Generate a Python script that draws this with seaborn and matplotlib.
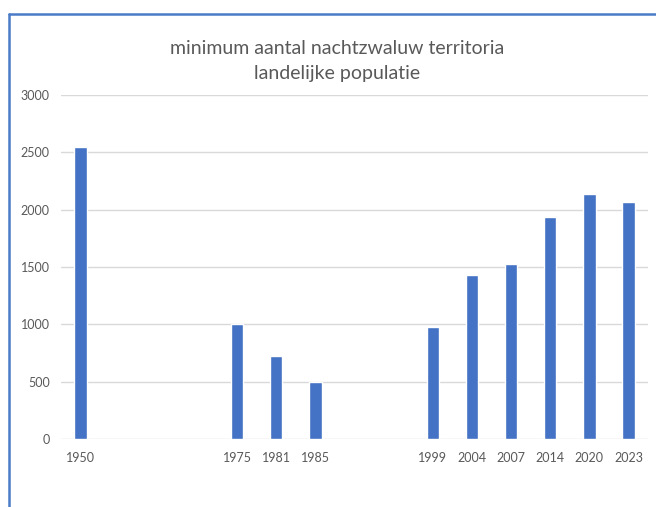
import matplotlib
matplotlib.use("Agg")
import matplotlib.pyplot as plt
from matplotlib.lines import Line2D
import seaborn as sns
import pandas as pd

years = ["1950", "1975", "1981", "1985", "1999", "2004", "2007", "2014", "2020", "2023"]
values = [2550, 1000, 720, 500, 980, 1430, 1530, 1940, 2140, 2070]
# category order on the axis, with empty slots as in the original chart
order = ["1950", "_g1", "_g2", "_g3", "1975", "1981", "1985", "_g4", "_g5",
         "1999", "2004", "2007", "2014", "2020", "2023"]
yticks = [0, 500, 1000, 1500, 2000, 2500, 3000]
title = "minimum aantal nachtzwaluw territoria\nlandelijke populatie"

sns.set_theme(style="white")
plt.rcParams["font.family"] = ["Lato", "DejaVu Sans"]

df = pd.DataFrame({"jaar": years, "aantal": values})

fig = plt.figure(figsize=(6.56, 5.07), dpi=100)
ax = fig.add_axes([61 / 656, 1 - 439 / 507, (648 - 61) / 656, (439 - 95) / 507])

sns.barplot(data=df, x="jaar", y="aantal", order=order, color="#4472C4",
            saturation=1, width=0.32, ax=ax)

ax.set_ylim(0, 3000)
ax.set_xlim(-0.5, len(order) - 0.5)
ax.set_yticks(yticks)
ax.set_yticklabels([str(t) for t in yticks])
ax.set_xticks(range(len(order)))
ax.set_xticklabels([o if not o.startswith("_") else "" for o in order])
ax.set_xlabel("")
ax.set_ylabel("")
ax.yaxis.grid(True, color="#D9D9D9", linewidth=1.0)
ax.set_axisbelow(True)
for s in ax.spines.values():
    s.set_visible(False)
ax.tick_params(axis="both", length=0, labelsize=9, labelcolor="#595959")
ax.tick_params(axis="x", pad=9)
ax.tick_params(axis="y", pad=8)

fig.text(337 / 656, 1 - 61 / 507, title, ha="center", va="center",
         fontsize=14, color="#595959", linespacing=1.5)

# chart border (selected chart frame)
fig.add_artist(Line2D([9 / 656, 9 / 656], [0, 1 - 14 / 507], color="#4A7CC8", linewidth=1.8))
fig.add_artist(Line2D([9 / 656, 1], [1 - 14 / 507, 1 - 14 / 507], color="#4A7CC8", linewidth=1.8))

fig.savefig("out.png", dpi=100, facecolor="white")
